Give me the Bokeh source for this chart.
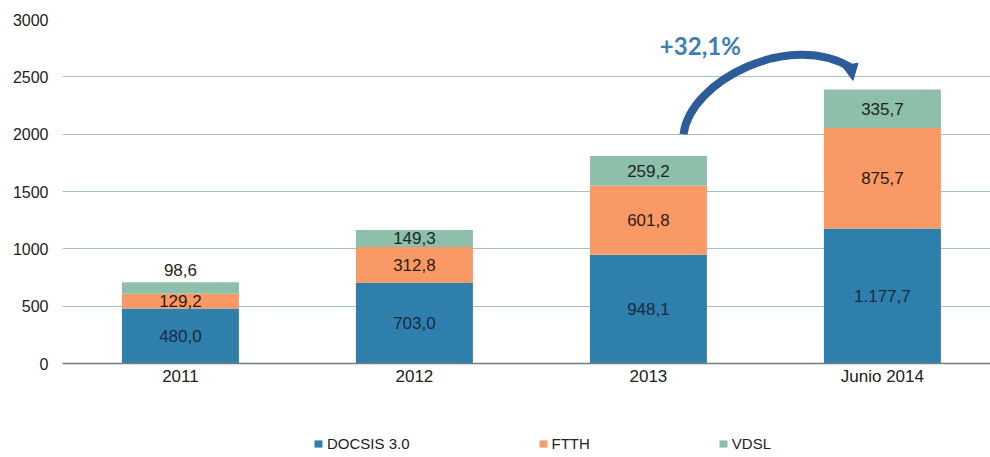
from bokeh.plotting import figure
from bokeh.layouts import column
from bokeh.models import (Range1d, Legend, LegendItem, ColumnDataSource, Arrow,
                          NormalHead, FixedTicker, Label)
from bokeh.core.properties import value
from bokeh.embed import file_html
from bokeh.resources import INLINE

categories = ["2011", "2012", "2013", "Junio 2014"]
docsis = [480.0, 703.0, 948.1, 1177.7]
ftth = [129.2, 312.8, 601.8, 875.7]
vdsl = [98.6, 149.3, 259.2, 335.7]
series_names = ["DOCSIS 3.0", "FTTH", "VDSL"]
colors = ["#2f7fad", "#f99a66", "#8dbfab"]
y_ticks = [0, 500, 1000, 1500, 2000, 2500, 3000]

FONT = "Liberation Sans, Arial, sans-serif"

def fmt(v):
    s = f"{v:,.1f}"
    return s.replace(",", "X").replace(".", ",").replace("X", ".")

x = list(range(len(categories)))
totals = [a + b + c for a, b, c in zip(docsis, ftth, vdsl)]

src = ColumnDataSource(dict(x=x, docsis=docsis, ftth=ftth, vdsl=vdsl))

p = figure(width=990, height=400, output_backend="svg", toolbar_location=None,
           x_range=Range1d(-0.504, 3.462), y_range=Range1d(0, 3000),
           min_border_left=62, min_border_right=0, min_border_top=19,
           min_border_bottom=37)
p.outline_line_color = None

rs = p.vbar_stack(["docsis", "ftth", "vdsl"], x="x", width=0.5, color=colors,
                  line_color=None, source=src)

# value labels
lx, ly, lt, lc = [], [], [], []
label_colors = ["#152b44", "#2e1a10", "#1c2626"]
for i in range(len(categories)):
    base = 0
    for j, vals in enumerate([docsis, ftth, vdsl]):
        v = vals[i]
        yy = base + v + 110 if v < 110 else base + v / 2
        lx.append(x[i]); ly.append(yy); lt.append(fmt(v)); lc.append(label_colors[j])
        base += v
p.text(x=lx, y=ly, text=lt, text_color=lc, text_align="center",
       text_baseline="middle", text_font=value(FONT), text_font_size="17px")

# axes
p.yaxis.ticker = FixedTicker(ticks=y_ticks)
p.yaxis.axis_line_color = None
p.yaxis.major_tick_line_color = None
p.yaxis.minor_tick_line_color = None
p.yaxis.major_tick_out = 0
p.yaxis.major_tick_in = 0
p.yaxis.major_label_standoff = 14
p.yaxis.major_label_text_font = FONT
p.yaxis.major_label_text_font_size = "16px"
p.yaxis.major_label_text_color = "#222222"

p.xaxis.ticker = FixedTicker(ticks=x)
p.xaxis.major_label_overrides = {i: c for i, c in enumerate(categories)}
p.xaxis.axis_line_color = "#6f7f85"
p.xaxis.axis_line_width = 1.5
p.xaxis.major_tick_line_color = None
p.xaxis.minor_tick_line_color = None
p.xaxis.major_tick_out = 0
p.xaxis.major_tick_in = 0
p.xaxis.major_label_standoff = 3
p.xaxis.major_label_text_font = FONT
p.xaxis.major_label_text_font_size = "17px"
p.xaxis.major_label_text_color = "#222222"

p.xgrid.grid_line_color = None
p.ygrid.ticker = FixedTicker(ticks=y_ticks[1:])
p.ygrid.grid_line_color = "#a9c0c5"
p.ygrid.grid_line_width = 1.2

# growth arrow
growth = (totals[3] / totals[2] - 1) * 100
arrow_color = "#2c5d98"
p.bezier(x0=[2.150], y0=[totals[2] + 190], x1=[2.866], y1=[totals[3] + 190],
         cx0=[2.179], cy0=[totals[2] + 661], cx1=[2.607], cy1=[totals[3] + 515],
         line_color=arrow_color, line_width=8)
p.add_layout(Arrow(end=NormalHead(size=16, fill_color=arrow_color,
                                  line_color=arrow_color),
                   x_start=2.862, y_start=totals[3] + 220,
                   x_end=2.874, y_end=totals[3] + 80,
                   line_color=arrow_color, line_width=6))
p.add_layout(Label(x=2.222, y=2770, text="+" + f"{growth:.1f}".replace(".", ",") + "%",
                   text_align="center", text_baseline="middle",
                   text_font="Lato", text_font_style="bold",
                   text_font_size="24px", text_color="#3c80b0"))

# legend strip (frame aligned with main plot frame, starting at x=62)
p2 = figure(width=990, height=57, output_backend="svg", toolbar_location=None,
            x_range=Range1d(0, 1), y_range=Range1d(0, 1),
            x_axis_location=None, y_axis_location=None, min_border=0)
p2.outline_line_color = None
p2.grid.visible = False
# off-range proxy glyphs only used for the legend swatches
dummies = [p2.vbar(x=[5], top=[1], width=0.5, color=c, line_color=None) for c in colors]
lg = Legend(items=[LegendItem(label=n, renderers=[r]) for n, r in zip(series_names, dummies)],
            location=(251, 5), orientation="horizontal",
            glyph_width=10, glyph_height=9, label_height=18,
            label_standoff=4, padding=0, margin=0, spacing=128,
            border_line_color=None, background_fill_alpha=0,
            label_text_font=FONT, label_text_font_size="15px",
            label_text_color="#222222")
p2.add_layout(lg, "center")

open("out.html", "w").write(file_html(column(p, p2), INLINE))
